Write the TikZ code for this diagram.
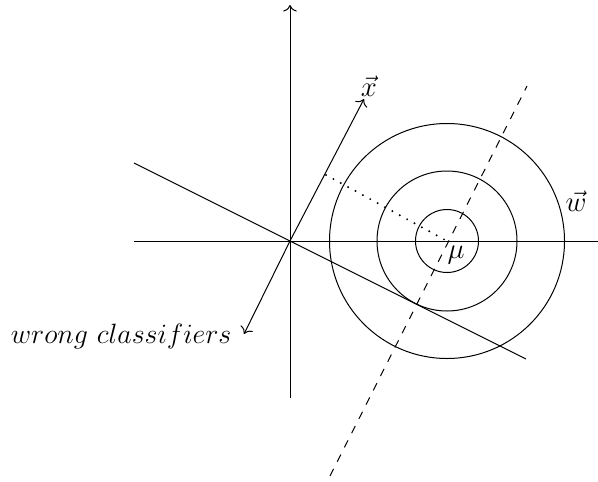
\documentclass[tikz,border=0pt]{standalone}
\usepackage{graphicx}
\usetikzlibrary{arrows.meta}
\begin{document}
\begin{tikzpicture}[x=0.5pt,y=-0.5pt,line width=0.5pt,>={To[scale=1.2]},
  lbl/.style={inner sep=0pt,font=\Large},
  dashpat/.style={dash pattern=on 4pt off 4pt},
  dotpat/.style={line width=1.1pt,line cap=round,dash pattern=on 0pt off 4.2pt}]
\useasboundingbox (0,0) rectangle (598,481);
\coordinate (O) at (290,241);
\coordinate (C) at (447,241);
\coordinate (vb) at (290,398);
\coordinate (vt) at (290,5);
\coordinate (hl) at (134,241);
\coordinate (hr) at (598,241);
\coordinate (sl) at (134,163);
\coordinate (sr) at (526,359);
\coordinate (db) at (330,476);
\coordinate (dt) at (527,86);
\coordinate (xt) at (364,99);
\coordinate (wt) at (244,334);
\coordinate (P) at (326,175);
\draw[->] (vb) -- (vt);
\draw (hl) -- (hr);
\draw (sl) -- (sr);
\draw[->] (O) -- (xt);
\draw[->] (O) -- (wt);
\draw (C) circle[radius=15.75pt];
\draw (C) circle[radius=35pt];
\draw (C) circle[radius=58.75pt];
\draw[dashpat] (db) -- (dt);
\draw[dotpat] (P) -- (C);
\node[lbl] (xl) at (369,86) {$\vec{x}$};
\node[lbl] (wl) at (576,201) {$\vec{w}$};
\node[lbl] (mu) at (456,255) {$\mu$};
\node[lbl,anchor=base east] (wc) at (232,343) {\scalebox{0.97}{$wrong\ classifiers$}};
\end{tikzpicture}
\end{document}
